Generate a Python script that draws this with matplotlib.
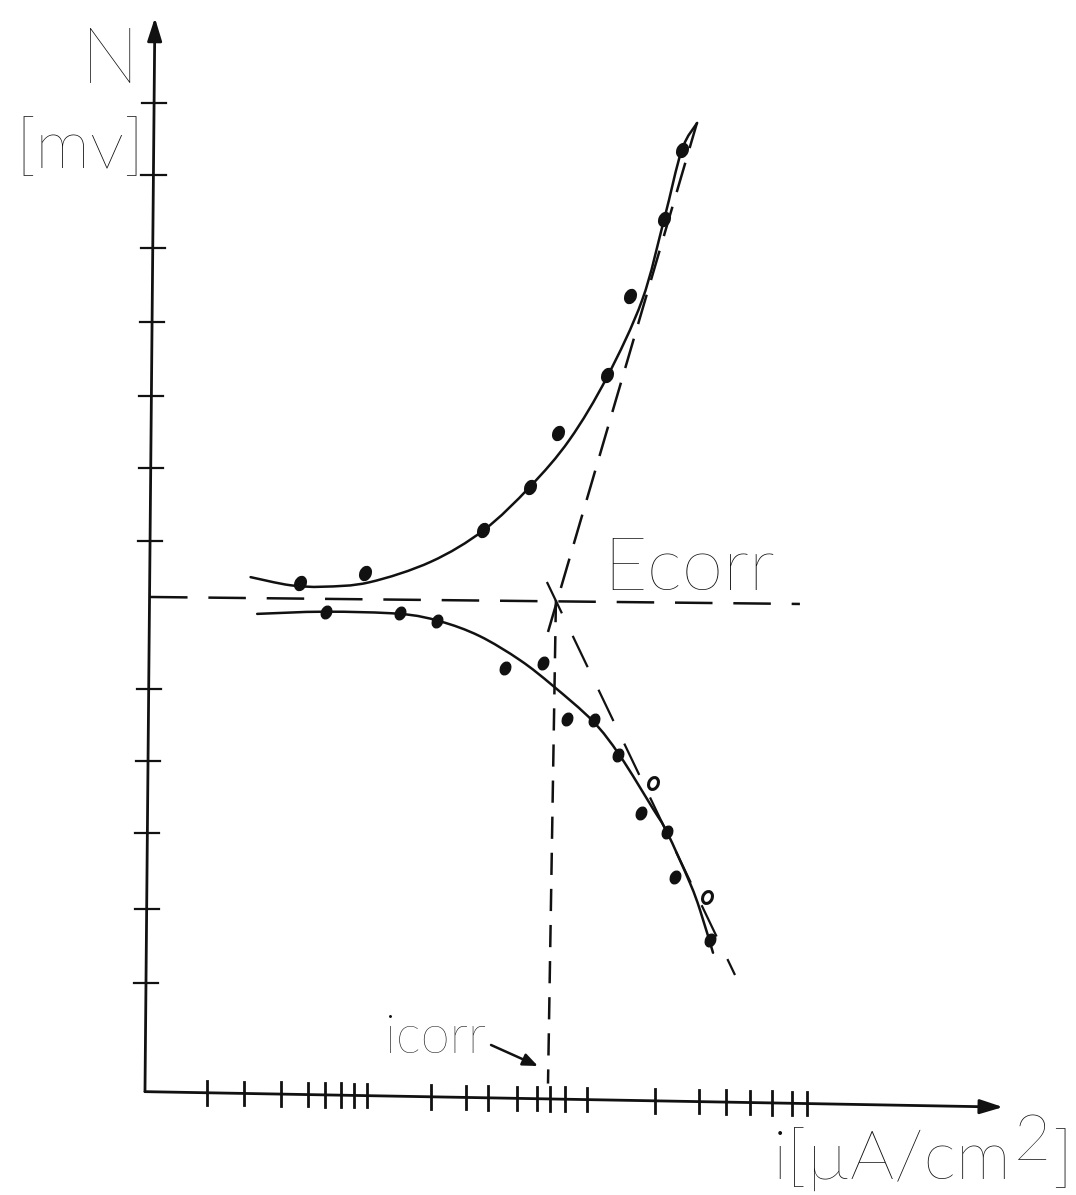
import numpy as np
import matplotlib
matplotlib.use("Agg")
import matplotlib.pyplot as plt
from matplotlib.path import Path
from matplotlib.patches import PathPatch
from matplotlib.markers import MarkerStyle
from matplotlib.transforms import Affine2D

plt.rcParams['lines.scale_dashes'] = False
plt.rcParams['font.family'] = ['Lato', 'DejaVu Sans']

# x: decades of current density from the origin, y: overpotential in tick units (Ecorr = 0)

# axis lines (hand drawn, slightly slanted)
yaxis_u = [0.0, 0.045]
yaxis_v = [-6.73, 7.88]
xaxis_u = [0.0, 3.90]
xaxis_v = [-6.73, -6.94]

y_ticks = [6.72, 5.74, 4.75, 3.74, 2.73, 1.76, 0.76, -1.25, -2.23, -3.21, -4.24, -5.25]
x_ticks = [0.28, 0.45, 0.62, 0.74, 0.82, 0.89, 0.95, 1.01,
           1.30, 1.46, 1.56, 1.69, 1.78, 1.84, 1.91, 2.01,
           2.32, 2.52, 2.64, 2.75, 2.85, 2.94, 3.01]

# anodic branch: fitted curve and measured points
anodic_curve_u = [0.48, 0.66, 0.81, 1.02, 1.30, 1.54, 1.75, 1.93, 2.10, 2.26, 2.36, 2.44, 2.51]
anodic_curve_v = [0.27, 0.16, 0.14, 0.20, 0.48, 0.91, 1.50, 2.14, 2.99, 4.04, 5.14, 6.08, 6.45]
anodic_pts_u = [0.705, 1.00, 1.536, 1.75, 1.877, 2.10, 2.205, 2.359, 2.441]
anodic_pts_v = [0.19, 0.327, 0.912, 1.497, 2.231, 3.02, 4.095, 5.143, 6.082]

# cathodic branch
cath_curve_u = [0.51, 0.82, 1.16, 1.34, 1.52, 1.705, 1.855, 2.036, 2.159, 2.309, 2.373, 2.477, 2.523, 2.582]
cath_curve_v = [-0.23, -0.20, -0.23, -0.33, -0.53, -0.86, -1.21, -1.69, -2.16, -2.88, -3.20, -3.89, -4.26, -4.84]
cath_pts_u = [0.823, 1.159, 1.327, 1.636, 1.809, 1.918, 2.041, 2.15, 2.255, 2.373, 2.409, 2.568]
cath_pts_v = [-0.204, -0.218, -0.327, -0.966, -0.898, -1.66, -1.673, -2.15, -2.939, -3.197, -3.81, -4.667]
cath_open_u = [2.309, 2.555]
cath_open_v = [-2.531, -4.082]

# Tafel extrapolations and corrosion point
ecorr_u = [0.023, 2.977]
ecorr_v = [0.0, -0.095]
tafel_a_u = [1.832, 2.509]
tafel_a_v = [-0.476, 6.449]
tafel_c_u = [1.827, 2.682]
tafel_c_v = [0.204, -5.143]
icorr_u = [1.868, 1.832]
icorr_v = [-0.041, -6.62]
icorr_arrow_u = [1.573, 1.786]
icorr_arrow_v = [-6.095, -6.381]


def smooth_path(u, v):
    # Catmull-Rom through the points, as cubic Bezier segments
    p = np.column_stack([u, v])
    verts = [p[0]]
    codes = [Path.MOVETO]
    n = len(p)
    for i in range(n - 1):
        p0 = p[i - 1] if i > 0 else p[i]
        p3 = p[i + 2] if i + 2 < n else p[i + 1]
        verts += [p[i] + (p[i + 1] - p0) / 6, p[i + 1] - (p3 - p[i]) / 6, p[i + 1]]
        codes += [Path.CURVE4] * 3
    return Path(verts, codes)


fig = plt.figure(figsize=(10.76, 11.95), dpi=100)
ax = fig.add_axes([0, 0, 1, 1])
ax.set_xlim(-0.659, 4.232)
ax.set_ylim(-8.136, 8.122)
ax.axis('off')

ink = '#111111'

# axes with arrow heads
ax.annotate('', xy=(yaxis_u[1], yaxis_v[1]), xytext=(yaxis_u[0], yaxis_v[0]),
            arrowprops=dict(arrowstyle='-|>,head_length=0.7,head_width=0.22',
                            lw=2.0, color=ink, shrinkA=0, shrinkB=0, mutation_scale=20))
ax.annotate('', xy=(xaxis_u[1], xaxis_v[1]), xytext=(xaxis_u[0], xaxis_v[0]),
            arrowprops=dict(arrowstyle='-|>,head_length=0.7,head_width=0.22',
                            lw=2.0, color=ink, shrinkA=0, shrinkB=0, mutation_scale=20))

for t in y_ticks:
    xc = np.interp(t, yaxis_v, yaxis_u)
    ax.plot([xc - 0.055, xc + 0.055], [t, t], color=ink, lw=1.6)
for t in x_ticks:
    yc = np.interp(t, xaxis_u, xaxis_v)
    ax.plot([t, t], [yc - 0.16, yc + 0.16], color=ink, lw=2.0)

# fitted curves
for cu, cv in [(anodic_curve_u, anodic_curve_v), (cath_curve_u, cath_curve_v)]:
    ax.add_patch(PathPatch(smooth_path(cu, cv), fill=False, lw=1.8, edgecolor=ink,
                           capstyle='round'))

# dashed construction lines
ax.plot(ecorr_u, ecorr_v, color=ink, lw=1.8, dashes=(27, 15))
ax.plot(tafel_a_u, tafel_a_v, color=ink, lw=1.8, dashes=(22, 11))
ax.plot(tafel_c_u, tafel_c_v, color=ink, lw=1.6, dashes=(25, 18))
ax.plot(icorr_u, icorr_v, color=ink, lw=1.8, dashes=(16, 10))

# measured points as small tilted blobs
blob = MarkerStyle('o', transform=Affine2D().scale(0.75, 1.0).rotate_deg(-25))
ax.scatter(anodic_pts_u, anodic_pts_v, s=110, marker=blob, color=ink, zorder=3)
ax.scatter(cath_pts_u, cath_pts_v, s=90, marker=blob, color=ink, zorder=3)
ax.scatter(cath_open_u, cath_open_v, s=80, marker=blob, facecolor='white',
           edgecolor=ink, lw=2.2, zorder=3)

# labels
txt = dict(color=ink, fontweight='light')
ax.text(-0.159, 6.993, 'N', ha='center', va='baseline', fontsize=56, **txt)
ax.text(-0.295, 5.837, '[mv]', ha='center', va='baseline', fontsize=50, **txt)
ax.text(2.082, 0.095, 'Ecorr', ha='left', va='baseline', fontsize=54, **txt)
ax.text(1.55, -6.20, 'icorr', ha='right', va='baseline', fontsize=38, **txt)
ax.text(2.855, -7.932, 'i[µA/cm', ha='left', va='baseline', fontsize=50, **txt)
ax.text(3.95, -7.66, '2', ha='left', va='baseline', fontsize=46, **txt)
ax.text(4.123, -7.932, ']', ha='left', va='baseline', fontsize=50, **txt)
ax.annotate('', xy=(icorr_arrow_u[1], icorr_arrow_v[1]),
            xytext=(icorr_arrow_u[0], icorr_arrow_v[0]),
            arrowprops=dict(arrowstyle='-|>,head_length=0.6,head_width=0.25',
                            lw=1.8, color=ink, shrinkA=0, shrinkB=0, mutation_scale=15))

fig.savefig('out.png', dpi=100, facecolor='white')
